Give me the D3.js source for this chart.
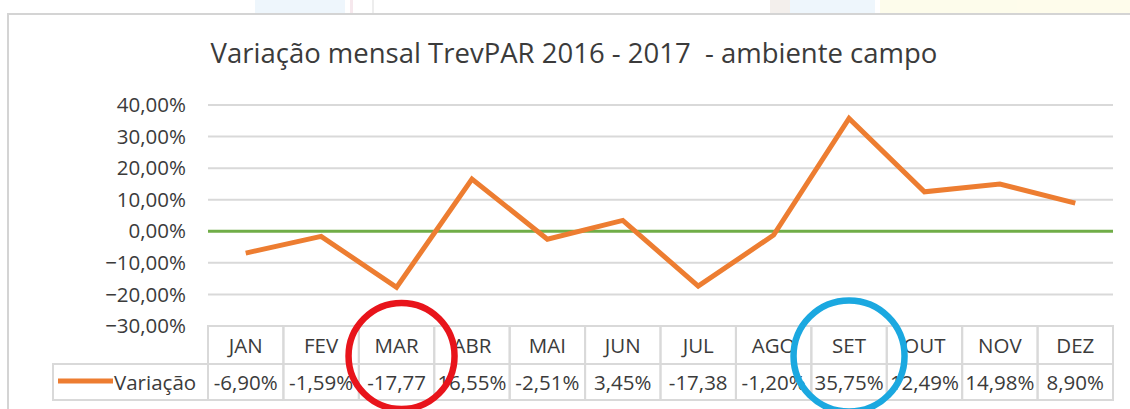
<!DOCTYPE html>
<html>
<head>
<meta charset="utf-8">
<script src="https://cdn.jsdelivr.net/npm/d3@7"></script>
<style>
  body { margin: 0; background: #fff; }
  svg { display: block; font-family: "Open Sans", "Noto Sans", sans-serif; }
</style>
</head>
<body>
<div id="chart"></div>
<script>
var months = ["JAN", "FEV", "MAR", "ABR", "MAI", "JUN", "JUL", "AGO", "SET", "OUT", "NOV", "DEZ"];
var values = [-6.90, -1.59, -17.77, 16.55, -2.51, 3.45, -17.38, -1.20, 35.75, 12.49, 14.98, 8.90];
var valueLabels = ["-6,90%", "-1,59%", "-17,77", "16,55%", "-2,51%", "3,45%", "-17,38", "-1,20%", "35,75%", "12,49%", "14,98%", "8,90%"];
var yTicks = [40, 30, 20, 10, 0, -10, -20, -30];
var seriesName = "Variação";
var title = "Variação mensal TrevPAR 2016 - 2017  - ambiente campo";

var width = 1130, height = 409;
var textColor = "#3b3b3b";
var gridColor = "#d9d9d9";
var orange = "#ed7d31";

var svg = d3.select("#chart").append("svg")
  .attr("width", width)
  .attr("height", height);

// faint picture behind the chart (top strip)
var bg = svg.append("g").attr("opacity", 0.7);
bg.append("rect").attr("x", 255).attr("y", 0).attr("width", 90).attr("height", 14).attr("fill", "#e8f3fc");
bg.append("rect").attr("x", 350).attr("y", 0).attr("width", 3).attr("height", 14).attr("fill", "#f3dfe6");
bg.append("rect").attr("x", 372).attr("y", 0).attr("width", 2).attr("height", 14).attr("fill", "#e6e6e6");
bg.append("rect").attr("x", 770).attr("y", 0).attr("width", 20).attr("height", 14).attr("fill", "#eee9e4");
bg.append("rect").attr("x", 790).attr("y", 0).attr("width", 85).attr("height", 14).attr("fill", "#e8f3fc");
bg.append("rect").attr("x", 880).attr("y", 0).attr("width", 250).attr("height", 14).attr("fill", "#fdfbe3");

// chart frame
svg.append("rect")
  .attr("x", 8).attr("y", 14)
  .attr("width", width).attr("height", height)
  .attr("fill", "#fff")
  .attr("stroke", "#d4d4d4")
  .attr("stroke-width", 2);

svg.append("text")
  .attr("x", 574).attr("y", 63)
  .attr("text-anchor", "middle")
  .attr("fill", textColor)
  .style("font-size", "27.5px")
  .style("white-space", "pre")
  .text(title);

var x = d3.scaleBand().domain(months).range([208, 1113]);
var y = d3.scaleLinear().domain([-30, 40]).range([326, 105]);

// gridlines
svg.append("g")
  .selectAll("line")
  .data(yTicks.filter(function(d) { return d !== 0; }))
  .enter().append("line")
  .attr("x1", 208).attr("x2", 1113)
  .attr("y1", function(d) { return y(d); })
  .attr("y2", function(d) { return y(d); })
  .attr("stroke", gridColor)
  .attr("stroke-width", 2);

// y axis labels
var fmt = function(d) { return d3.format(".2f")(d).replace(".", ",") + "%"; };
svg.append("g")
  .selectAll("text")
  .data(yTicks)
  .enter().append("text")
  .attr("x", 186)
  .attr("y", function(d) { return y(d); })
  .attr("dy", "0.35em")
  .attr("text-anchor", "end")
  .attr("fill", textColor)
  .style("font-size", "20.5px")
  .text(fmt);

// zero line
svg.append("line")
  .attr("x1", 208).attr("x2", 1113)
  .attr("y1", y(0)).attr("y2", y(0))
  .attr("stroke", "#70ad47")
  .attr("stroke-width", 3);

// series line
var line = d3.line()
  .x(function(d, i) { return x(months[i]) + x.bandwidth() / 2; })
  .y(function(d) { return y(d); });

svg.append("path")
  .datum(values)
  .attr("d", line)
  .attr("fill", "none")
  .attr("stroke", orange)
  .attr("stroke-width", 5)
  .attr("stroke-linejoin", "miter");

// data table
var rowTop = y(-30), rowMid = 364, rowBot = 400;
var table = svg.append("g");

table.selectAll("rect.head")
  .data(months)
  .enter().append("rect")
  .attr("class", "head")
  .attr("x", function(d) { return x(d); })
  .attr("y", rowTop)
  .attr("width", x.bandwidth())
  .attr("height", rowMid - rowTop)
  .attr("fill", "none")
  .attr("stroke", gridColor)
  .attr("stroke-width", 2);

table.selectAll("rect.val")
  .data(months)
  .enter().append("rect")
  .attr("class", "val")
  .attr("x", function(d) { return x(d); })
  .attr("y", rowMid)
  .attr("width", x.bandwidth())
  .attr("height", rowBot - rowMid)
  .attr("fill", "none")
  .attr("stroke", gridColor)
  .attr("stroke-width", 2);

table.append("rect")
  .attr("x", 53).attr("y", rowMid)
  .attr("width", 208 - 53).attr("height", rowBot - rowMid)
  .attr("fill", "none")
  .attr("stroke", gridColor)
  .attr("stroke-width", 2);

table.selectAll("text.head")
  .data(months)
  .enter().append("text")
  .attr("class", "head")
  .attr("x", function(d) { return x(d) + x.bandwidth() / 2; })
  .attr("y", 353)
  .attr("text-anchor", "middle")
  .attr("fill", textColor)
  .style("font-size", "20.5px")
  .text(function(d) { return d; });

table.selectAll("text.val")
  .data(valueLabels)
  .enter().append("text")
  .attr("class", "val")
  .attr("x", function(d, i) { return x(months[i]) + x.bandwidth() / 2; })
  .attr("y", 390)
  .attr("text-anchor", "middle")
  .attr("fill", textColor)
  .style("font-size", "20.5px")
  .text(function(d) { return d; });

// legend key
table.append("line")
  .attr("x1", 58).attr("x2", 113)
  .attr("y1", 381).attr("y2", 381)
  .attr("stroke", orange)
  .attr("stroke-width", 5);
table.append("text")
  .attr("x", 114).attr("y", 390)
  .attr("fill", textColor)
  .style("font-size", "20.5px")
  .text(seriesName);

// highlight rings
svg.append("circle")
  .attr("cx", x("MAR") + x.bandwidth() / 2 + 5)
  .attr("cy", 356)
  .attr("r", 53)
  .attr("fill", "none")
  .attr("stroke", "#e8141b")
  .attr("stroke-width", 6.5);

svg.append("circle")
  .attr("cx", x("SET") + x.bandwidth() / 2)
  .attr("cy", 356)
  .attr("r", 55.5)
  .attr("fill", "none")
  .attr("stroke", "#1ba8e0")
  .attr("stroke-width", 6.5);
</script>
</body>
</html>
